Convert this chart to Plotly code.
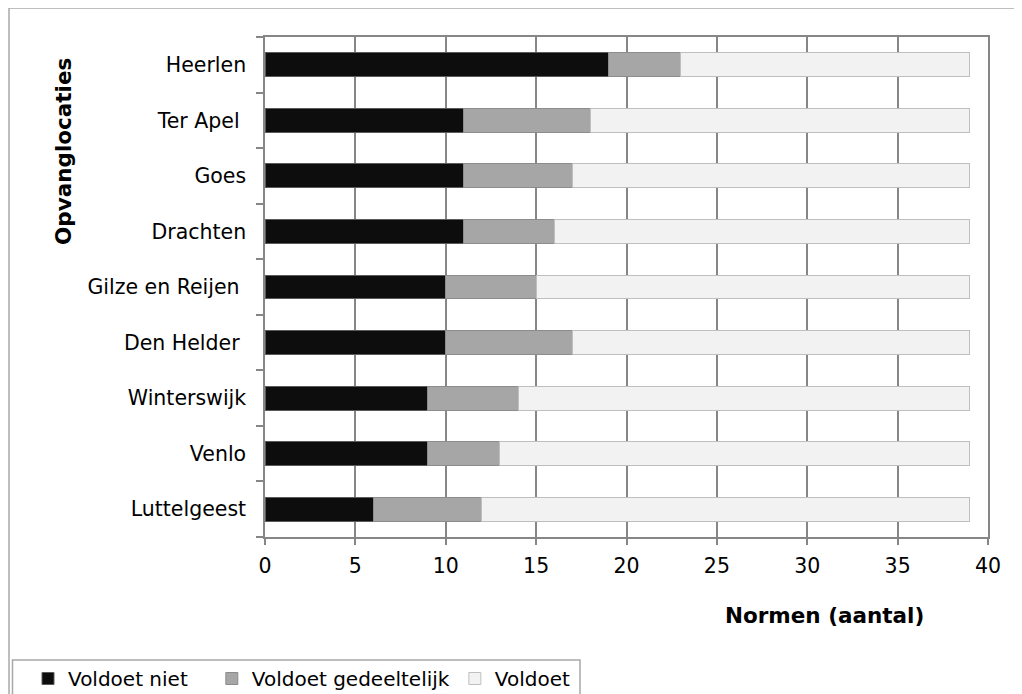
import plotly.graph_objects as go

categories = ["Heerlen", "Ter Apel ", "Goes", "Drachten", "Gilze en Reijen ",
              "Den Helder ", "Winterswijk", "Venlo", "Luttelgeest"]
voldoet_niet = [19, 11, 11, 11, 10, 10, 9, 9, 6]
voldoet_gedeeltelijk = [4, 7, 6, 5, 5, 7, 5, 4, 6]
voldoet = [16, 21, 22, 23, 24, 22, 25, 26, 27]
series_names = ["Voldoet niet", "Voldoet gedeeltelijk", "Voldoet"]
x_ticks = [0, 5, 10, 15, 20, 25, 30, 35, 40]

FONT = "DejaVu Sans, Verdana, sans-serif"
OFF = 8  # page body margin
W, H = 1022 - OFF, 694 - OFF
L, T = 265 - OFF, 37 - OFF
R = W - (988 - OFF)
B = H - (537 - OFF)
pw, ph = W - L - R, H - T - B

def px_x(px):
    return (px - OFF - L) / pw

def px_y(py):
    return (H - B - (py - OFF)) / ph

NB = "\u00a0"
legend_labels = [series_names[0] + NB * 3, series_names[1], series_names[2]]

fig = go.Figure()
styles = [("#0d0d0d", "#5a5a5a"), ("#a6a6a6", "#8c8c8c"), ("#f2f2f2", "#bfbfbf")]
for name, vals, (fc, lc) in zip(legend_labels, [voldoet_niet, voldoet_gedeeltelijk, voldoet], styles):
    fig.add_trace(go.Bar(
        y=categories, x=vals, name=name, orientation="h",
        marker=dict(color=fc, line=dict(color=lc, width=1)),
    ))

fig.update_layout(
    width=W, height=H,
    barmode="stack", bargap=0.57,
    plot_bgcolor="white", paper_bgcolor="white",
    margin=dict(l=L, r=R, t=T, b=B, autoexpand=False),
    font=dict(family=FONT, size=20.5, color="black"),
    xaxis=dict(
        range=[0, 40], tickvals=x_ticks, showgrid=True, gridcolor="#868686", gridwidth=1.5,
        zeroline=False, showline=True, linecolor="#868686", linewidth=1.5, mirror=True,
        ticks="outside", ticklen=6, tickcolor="#868686", tickwidth=1.5,
        tickfont=dict(size=20.5), fixedrange=True, ticklabelstandoff=4,
    ),
    yaxis=dict(
        categoryorder="array", categoryarray=categories[::-1],
        showgrid=False, showline=True, linecolor="#868686", linewidth=1.5, mirror=True,
        ticks="outside", tickson="boundaries", ticklen=7, tickcolor="#868686", tickwidth=1.5,
        tickfont=dict(size=20.5), ticklabelstandoff=13,
    ),
    showlegend=True,
    legend=dict(
        orientation="h", x=px_x(28), y=px_y(659), xanchor="left", yanchor="top",
        borderwidth=0, bgcolor="rgba(0,0,0,0)",
        font=dict(size=20), itemwidth=30, traceorder="normal",
    ),
    annotations=[
        dict(text="<b>Normen (aantal)</b>", xref="paper", yref="paper",
             x=px_x(824), y=px_y(615), xanchor="center", yanchor="middle",
             showarrow=False, font=dict(size=21.5)),
        dict(text="<b>Opvanglocaties</b>", xref="paper", yref="paper",
             x=px_x(63), y=px_y(152), xanchor="center", yanchor="middle",
             textangle=-90, showarrow=False, font=dict(size=21.5)),
    ],
    shapes=[
        dict(type="line", xref="paper", yref="paper", x0=px_x(9), x1=px_x(1040),
             y0=px_y(8), y1=px_y(8), line=dict(color="#a8a8a8", width=1.5)),
        dict(type="line", xref="paper", yref="paper", x0=px_x(9), x1=px_x(9),
             y0=px_y(8), y1=px_y(720), line=dict(color="#a8a8a8", width=1.5)),
        dict(type="rect", xref="paper", yref="paper", x0=px_x(12.5), x1=px_x(580),
             y0=px_y(660), y1=px_y(730), line=dict(color="#a8a8a8", width=1.5),
             fillcolor="white", layer="below"),
    ],
)

fig.write_html("out.html")
